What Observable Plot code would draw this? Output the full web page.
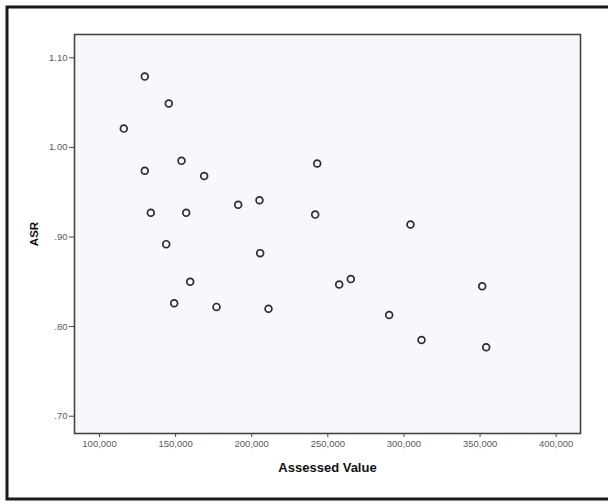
<!DOCTYPE html>
<html>
<head>
<meta charset="utf-8">
<script src="https://cdn.jsdelivr.net/npm/d3@7"></script>
<script src="https://cdn.jsdelivr.net/npm/@observablehq/plot@0.6"></script>
<style>
  html, body { margin: 0; padding: 0; background: #fff; }
  #chart { width: 608px; height: 503px; overflow: hidden; }
</style>
</head>
<body>
<div id="chart"></div>
<script>
const assessedValue = [129760, 145520, 115960, 153870, 129760, 168780, 243010, 133700, 156950, 191110,
                       205100, 241690, 143820, 205560, 159580, 149070, 176860, 211020, 257460, 265080,
                       304300, 351400, 290300, 311520, 354020];
const asr = [1.079, 1.049, 1.021, 0.985, 0.974, 0.968, 0.982, 0.927, 0.927, 0.936,
             0.941, 0.925, 0.892, 0.882, 0.850, 0.826, 0.822, 0.820, 0.847, 0.853,
             0.914, 0.845, 0.813, 0.785, 0.777];
const xTicks = [100000, 150000, 200000, 250000, 300000, 350000, 400000];
const yTicks = [0.70, 0.80, 0.90, 1.00, 1.10];
const xTitle = "Assessed Value";
const yTitle = "ASR";

const data = assessedValue.map((v, i) => ({value: v, asr: asr[i]}));
const yFmt = d => { const s = d.toFixed(2); return d < 1 ? s.slice(1) : s; };

const chart = Plot.plot({
  width: 608,
  height: 503,
  marginLeft: 74,
  marginRight: 28,
  marginTop: 34,
  marginBottom: 70,
  style: {background: "#fff", fontFamily: "'Liberation Sans', Arial, sans-serif", fontSize: "9.5px", overflow: "visible"},
  x: {domain: [83580, 415970]},
  y: {domain: [0.6807, 1.126]},
  marks: [
    Plot.frame({fill: "#f7f8fb", stroke: null}),
    Plot.axisX({ticks: xTicks, tickFormat: d3.format(","), tickSize: 4, tickPadding: 3, stroke: "#444", fill: "#5a5a5a",
                label: xTitle, labelAnchor: "center", labelArrow: "none", labelOffset: 38}),
    Plot.axisY({ticks: yTicks, tickFormat: yFmt, tickSize: 5, tickPadding: 2, stroke: "#444", fill: "#5a5a5a",
                label: yTitle, labelAnchor: "center", labelArrow: "none", labelOffset: 45}),
    Plot.frame({stroke: "#444", strokeWidth: 1.6}),
    Plot.dot(data, {x: "value", y: "asr", r: 3.4, stroke: "#2b2b35", strokeWidth: 1.7, fill: "none"})
  ]
});

document.getElementById("chart").appendChild(chart);

const svg = d3.select(chart);
svg.selectAll('[aria-label="x-axis label"] text')
  .attr("font-weight", "bold").attr("font-size", 13).attr("fill", "#111");
svg.selectAll('[aria-label="y-axis label"] text')
  .attr("font-weight", "bold").attr("font-size", 11.5).attr("fill", "#111");
// outer scanned page border
svg.append("rect").attr("x", 7).attr("y", 7).attr("width", 620).attr("height", 492)
  .attr("fill", "none").attr("stroke", "#1a1a1a").attr("stroke-width", 3);
</script>
</body>
</html>
